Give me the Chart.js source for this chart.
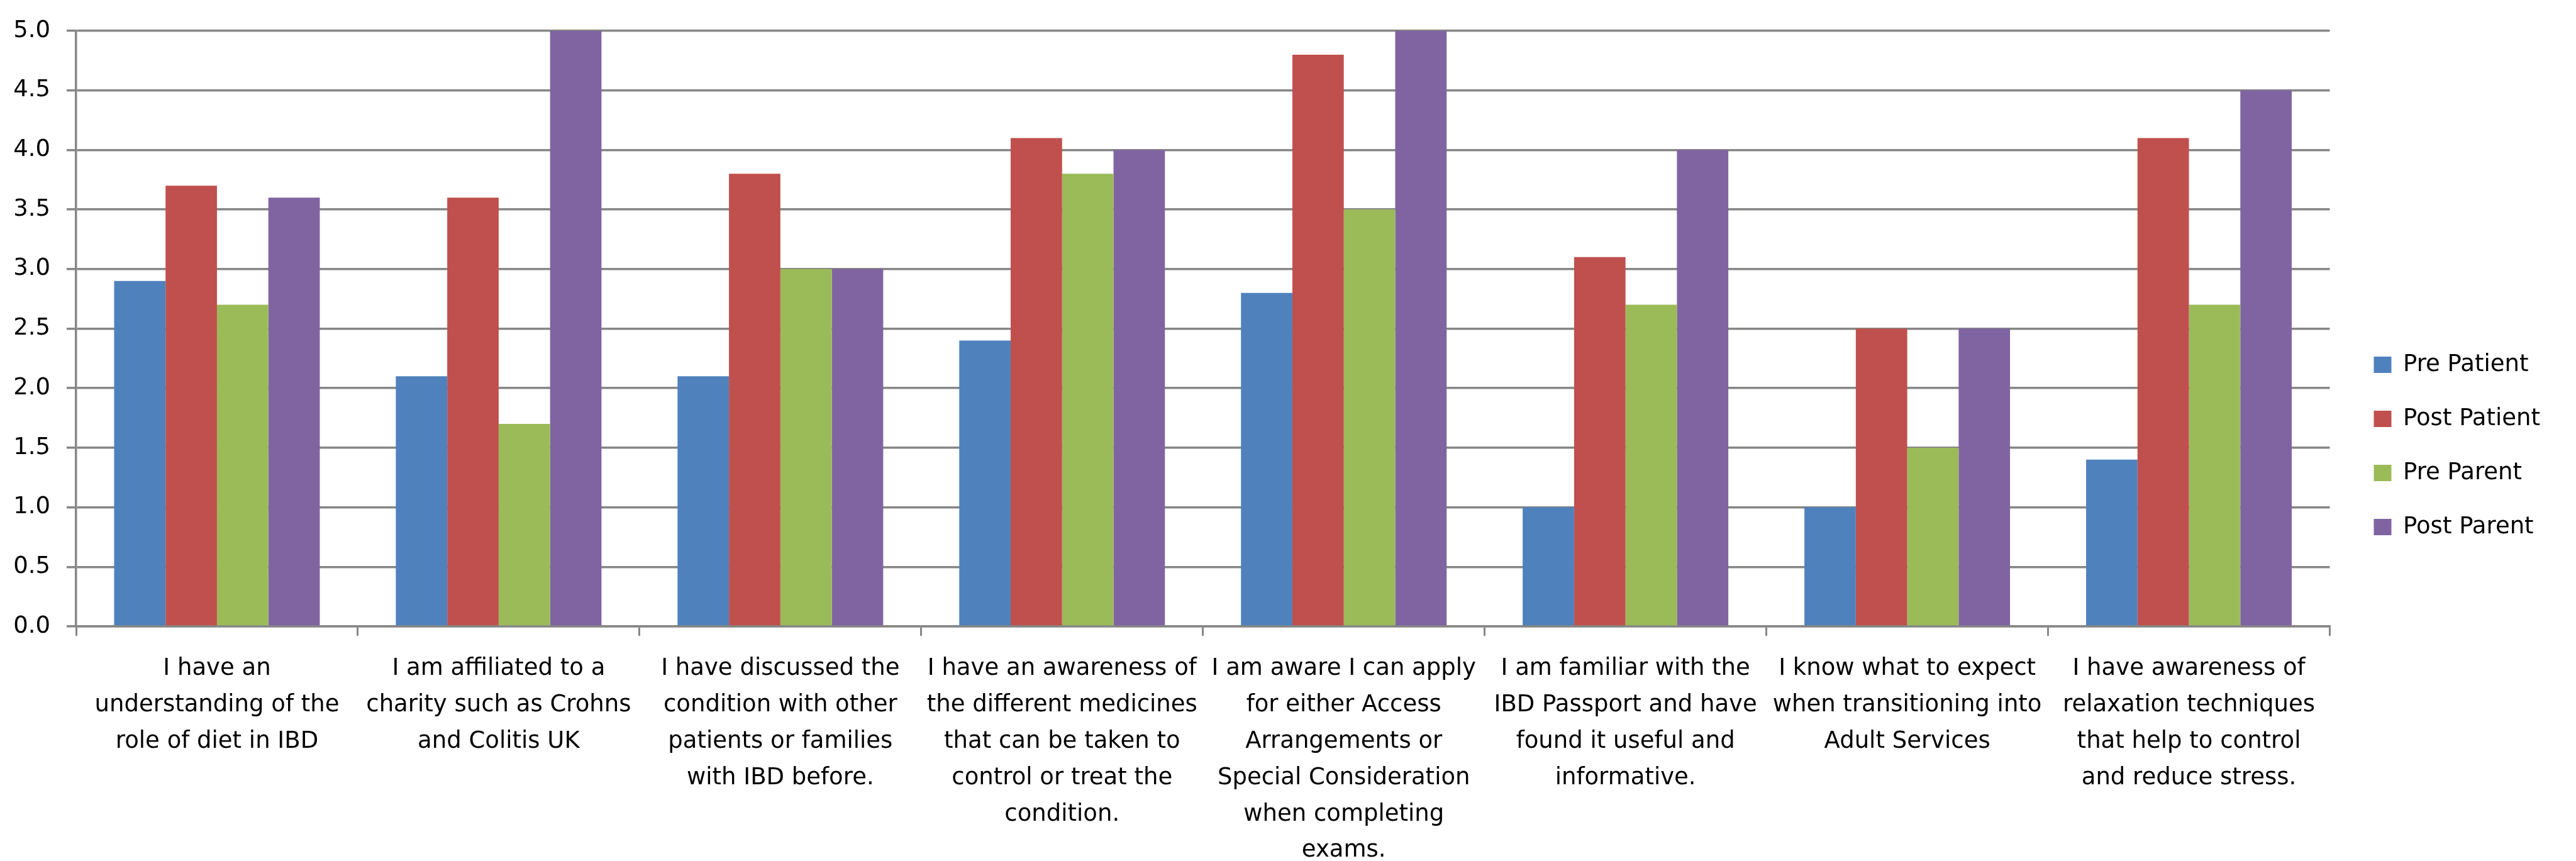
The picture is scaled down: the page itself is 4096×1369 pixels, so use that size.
<!DOCTYPE html>
<html>
<head>
<meta charset="utf-8">
<script src="https://cdn.jsdelivr.net/npm/chart.js@4"></script>
<style>
  html, body { margin: 0; padding: 0; background: #fff; }
  #survey { display: block; }
</style>
</head>
<body>
<canvas id="survey" width="4096" height="1369"></canvas>
<script>
const categories = [
  ['I have an', 'understanding of the', 'role of diet in IBD'],
  ['I am affiliated to a', 'charity such as Crohns', 'and Colitis UK'],
  ['I have discussed the', 'condition with other', 'patients or families', 'with IBD before.'],
  ['I have an awareness of', 'the different medicines', 'that can be taken to', 'control or treat the', 'condition.'],
  ['I am aware I can apply', 'for either Access', 'Arrangements or', 'Special Consideration', 'when completing', 'exams.'],
  ['I am familiar with the', 'IBD Passport and have', 'found it useful and', 'informative.'],
  ['I know what to expect', 'when transitioning into', 'Adult Services'],
  ['I have awareness of', 'relaxation techniques', 'that help to control', 'and reduce stress.']
];

const prePatient = [2.9, 2.1, 2.1, 2.4, 2.8, 1.0, 1.0, 1.4];
const postPatient = [3.7, 3.6, 3.8, 4.1, 4.8, 3.1, 2.5, 4.1];
const preParent = [2.7, 1.7, 3.0, 3.8, 3.5, 2.7, 1.5, 2.7];
const postParent = [3.6, 5.0, 3.0, 4.0, 5.0, 4.0, 2.5, 4.5];

const yTicks = [0, 0.5, 1, 1.5, 2, 2.5, 3, 3.5, 4, 4.5, 5];

const axisGrey = '#868686';
const font = { family: "'DejaVu Sans', sans-serif", size: 37 };

// the legend sits a little further right than Chart.js puts it
const nudgeLegend = {
  id: 'nudgeLegend',
  afterLayout(chart) {
    chart.legend.left += 21;
    chart.legend.right += 21;
  }
};

const ctx = document.getElementById('survey').getContext('2d');

new Chart(ctx, {
  type: 'bar',
  data: {
    labels: categories,
    datasets: [
      { label: 'Pre Patient', data: prePatient, backgroundColor: '#4F81BD' },
      { label: 'Post Patient', data: postPatient, backgroundColor: '#C0504D' },
      { label: 'Pre Parent', data: preParent, backgroundColor: '#9BBB59' },
      { label: 'Post Parent', data: postParent, backgroundColor: '#8064A2' }
    ]
  },
  options: {
    responsive: false,
    animation: false,
    devicePixelRatio: 1,
    datasets: {
      bar: {
        categoryPercentage: 0.73,
        barPercentage: 1,
        borderWidth: 0
      }
    },
    layout: {
      padding: { top: 49, right: 68, bottom: 0, left: 0 }
    },
    scales: {
      x: {
        afterFit: (scale) => { scale.height = 373; },
        grid: {
          drawOnChartArea: false,
          drawTicks: true,
          tickLength: 15,
          color: axisGrey,
          lineWidth: 3
        },
        border: { display: true, color: axisGrey, width: 3.5 },
        ticks: {
          color: '#000',
          font: { ...font, lineHeight: 1.567 },
          padding: 23,
          maxRotation: 0,
          autoSkip: false
        }
      },
      y: {
        min: 0,
        max: 5,
        afterFit: (scale) => { scale.width = 121; },
        afterBuildTicks: (scale) => {
          scale.ticks = yTicks.map((v) => ({ value: v }));
        },
        grid: {
          color: axisGrey,
          lineWidth: 3.5,
          drawTicks: true,
          tickLength: 15
        },
        border: { display: true, color: axisGrey, width: 3.5 },
        ticks: {
          color: '#000',
          font: font,
          padding: 26,
          callback: (value) => Number(value).toFixed(1)
        }
      }
    },
    plugins: {
      legend: {
        position: 'right',
        align: 'center',
        labels: {
          color: '#000',
          font: font,
          boxWidth: 28,
          boxHeight: 26,
          padding: 49
        }
      },
      tooltip: { enabled: false },
      title: { display: false }
    }
  },
  plugins: [nudgeLegend]
});
</script>
</body>
</html>
